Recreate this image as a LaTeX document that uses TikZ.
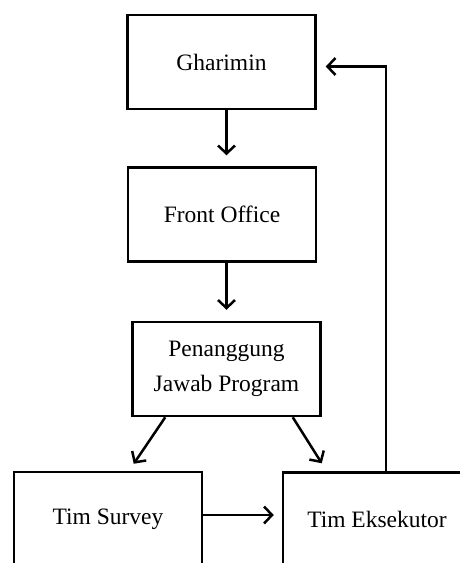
\documentclass[tikz,border=0pt]{standalone}
\usepackage{fontspec}
\setmainfont{Liberation Serif}
\usetikzlibrary{arrows.meta}
\begin{document}
\begin{tikzpicture}[x=1pt,y=-1pt,
  box/.style={draw,line width=2.5pt,minimum width=188pt,minimum height=94pt,inner sep=0pt,align=center,
    font=\fontsize{23.5}{35}\selectfont},
  arr/.style={line width=2.5pt,-{Straight Barb[length=8pt,width=17pt,line width=2.5pt]}}]
\useasboundingbox (0,0) rectangle (460,563);
\clip (0,0) rectangle (460,563);
\node[box] (gh) at (221.5,62) {Gharimin};
\node[box] (fo) at (222,214.5) {Front Office};
\node[box] (pj) at (226.5,369) {Penanggung\\Jawab Program};
\node[box] (ts) at (108,519) {Tim Survey};
\node[box] (te) at (377,519.5) {Tim Eksekutor};
\draw[arr,shorten >=11pt] (pj.north |- gh.south) -- (pj.north |- fo.north);
\draw[arr,shorten >=11pt] (pj.north |- fo.south) -- (pj.north);
\draw[arr] ([xshift=34pt]pj.south west) -- ([xshift=121pt,yshift=7pt]ts.north west);
\draw[arr] ([xshift=-29pt]pj.south east) -- ([xshift=40pt,yshift=8pt]te.north west);
\draw[arr,shorten >=8pt] ([yshift=4pt]ts.east) -- ([yshift=4pt]ts.east -| te.west);
\coordinate (up) at ([xshift=9pt]te.north);
\coordinate (ge) at ([xshift=9pt,yshift=-4.5pt]gh.east);
\draw[arr] (up) |- (ge);
\end{tikzpicture}
\end{document}
